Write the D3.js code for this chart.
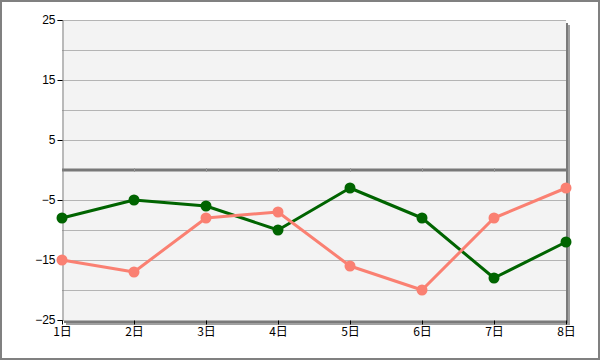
<!DOCTYPE html>
<html><head><meta charset="utf-8">
<script src="https://cdn.jsdelivr.net/npm/d3@7"></script>
<style>body{margin:0;background:#fff}svg{display:block}</style>
</head><body>
<script>
const categories = ["1日","2日","3日","4日","5日","6日","7日","8日"];
const seriesGreen = [-8,-5,-6,-10,-3,-8,-18,-12];
const seriesSalmon = [-15,-17,-8,-7,-16,-20,-8,-3];
const yTicks = [25,15,5,-5,-15,-25];
const yGrid = [25,20,15,10,5,-5,-10,-15,-20,-25];

const W=600,H=360;
const svg=d3.select("body").append("svg").attr("width",W).attr("height",H);
svg.append("rect").attr("x",1).attr("y",1).attr("width",W-2).attr("height",H-2)
  .attr("fill","#fff").attr("stroke","#808080").attr("stroke-width",2);

const x=d3.scalePoint().domain(categories).range([62,566]);
const y=d3.scaleLinear().domain([-25,25]).range([320,20]);
const L=62,R=566,T=20,B=320;

// shadow
svg.append("rect").attr("x",L+4).attr("y",T+5).attr("width",R-L).attr("height",B-T)
  .attr("fill","#a0a0a0");
svg.append("rect").attr("x",L+2).attr("y",T+3).attr("width",R-L).attr("height",B-T)
  .attr("fill","#7a7a7a");
svg.append("rect").attr("x",L).attr("y",T).attr("width",R-L).attr("height",B-T).attr("fill","#f3f3f3");

// grid
svg.append("g").selectAll("line").data(yGrid).join("line")
  .attr("x1",L).attr("x2",R).attr("y1",d=>y(d)+0.5).attr("y2",d=>y(d)+0.5)
  .attr("stroke","#b4b4b4").attr("stroke-width",1);
svg.append("line").attr("x1",L).attr("x2",R).attr("y1",y(0)).attr("y2",y(0))
  .attr("stroke","#787878").attr("stroke-width",3);
// small ticks on zero line
svg.append("g").selectAll("line").data(categories.slice(1,-1)).join("line")
  .attr("x1",d=>x(d)+0.5).attr("x2",d=>x(d)+0.5).attr("y1",y(0)-2).attr("y2",y(0)+2)
  .attr("stroke","#9a9a9a").attr("stroke-width",1);

// y axis
const yAxis=d3.axisLeft(y).tickValues(yTicks).tickSize(5).tickPadding(2).tickFormat(d3.format("d"));
const gy=svg.append("g").attr("transform",`translate(${L+0.5},0)`).call(yAxis);
gy.select(".domain").attr("stroke","#808080");
gy.selectAll(".tick line").attr("stroke","#000");
gy.selectAll("text").attr("font-family","Liberation Sans, Arial, sans-serif").attr("font-size",12).attr("fill","#000");

// x axis
const xAxis=d3.axisBottom(x).tickSize(4).tickPadding(1);
const gx=svg.append("g").attr("transform",`translate(0,${B+0.5})`).call(xAxis);
gx.select(".domain").remove();
gx.selectAll(".tick line").attr("stroke","#000");
gx.selectAll("text").attr("font-family","Noto Sans CJK JP, sans-serif").attr("font-size",12).attr("fill","#000").attr("dy","0.9em");

const line=d3.line().x((d,i)=>x(categories[i])).y(d=>y(d));
function series(vals,color){
  svg.append("path").datum(vals).attr("d",line).attr("fill","none").attr("stroke",color).attr("stroke-width",3).attr("stroke-linejoin","round");
  svg.append("g").selectAll("circle").data(vals).join("circle")
    .attr("cx",(d,i)=>x(categories[i])).attr("cy",d=>y(d)).attr("r",5.5).attr("fill",color);
}
series(seriesGreen,"#006400");
series(seriesSalmon,"#fa8072");
</script>
</body></html>
